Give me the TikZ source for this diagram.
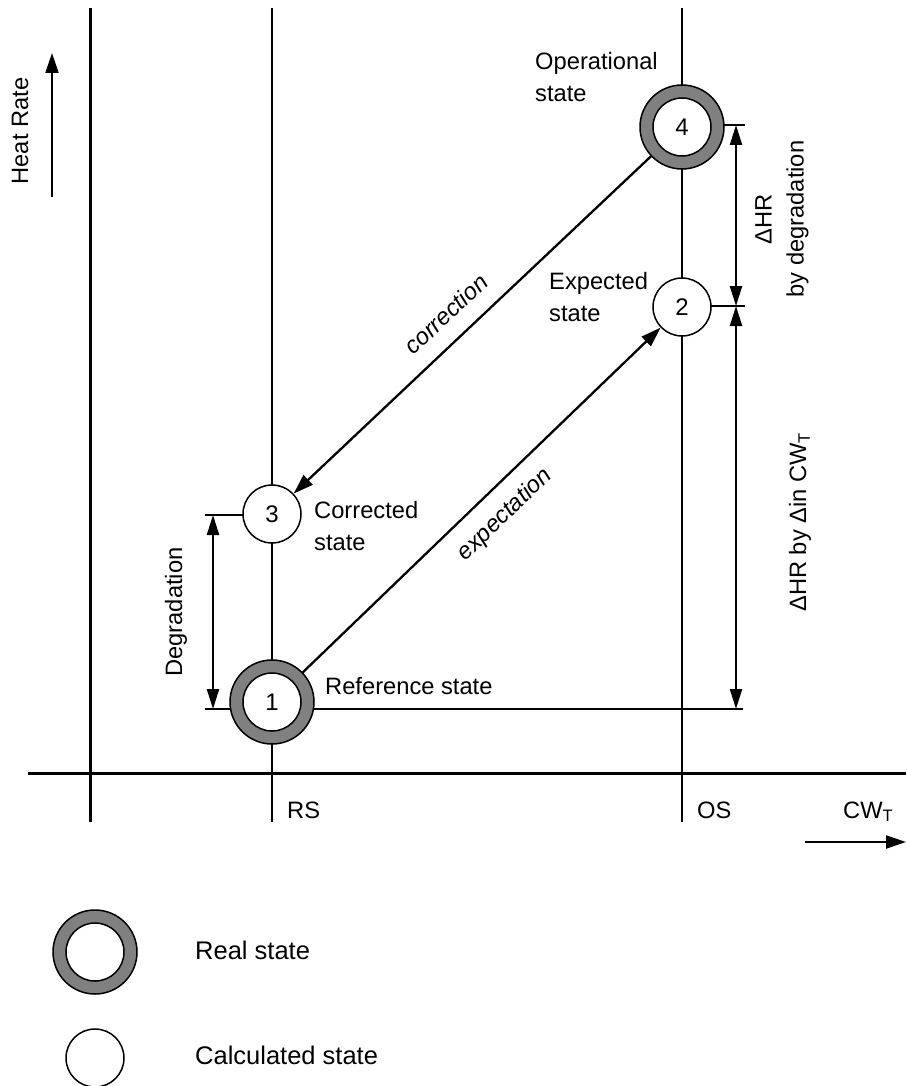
\documentclass[tikz,border=0pt]{standalone}
\usepackage{fontspec}
\setmainfont{Liberation Sans}
\usetikzlibrary{arrows.meta}
\definecolor{ringgray}{HTML}{808080}
\begin{document}
\begin{tikzpicture}[x=1pt,y=-1pt,
  thinline/.style={line width=1.5pt},
  axisline/.style={line width=3pt},
  arr/.style={line width=2.3pt,-{Triangle[length=20pt,width=13pt]}},
  dimarr/.style={line width=2.2pt,{Triangle[length=20pt,width=12pt]}-{Triangle[length=20pt,width=12pt]}},
  txt/.style={inner sep=0pt,font=\fontsize{23.7}{32}\selectfont},
  itxt/.style={inner sep=0pt,font=\fontsize{23.7}{32}\selectfont\itshape},
  legtxt/.style={inner sep=0pt,font=\fontsize{25.5}{32}\selectfont},
  realring/.style={circle,draw,line width=1.5pt,fill=ringgray,minimum size=84pt,inner sep=0pt},
  calc/.style={circle,draw,line width=1.5pt,fill=white,minimum size=58pt,inner sep=0pt,font=\fontsize{24}{28}\selectfont},
]
\useasboundingbox (0,0) rectangle (906,1086);

% axes and guide lines
\draw[axisline] (90,8) -- (90,822);
\draw[axisline] (28,773) -- (906,773);
\draw[thinline] (272,8) -- (272,822);
\draw[thinline] (682,8) -- (682,822);

% tick / reference lines
\draw[thinline] (205,709) -- (743,709);
\draw[thinline] (205,515) -- (250,515);
\draw[thinline] (700,125) -- (745,125);
\draw[thinline] (700,306) -- (745,306);

% state circles
\node[realring] (c4) at (682,127) {};
\node[calc] (c4i) at (682,127) {4};
\node[calc] (c2) at (682,307) {2};
\node[calc] (c3) at (272,514) {3};
\node[realring] (c1) at (272,702) {};
\node[calc] (c1i) at (272,702) {1};

% dimension coordinates
\coordinate (t4) at (736,125);
\coordinate (t2) at (736,306);
\coordinate (t1) at (736,709);
\coordinate (d3) at (213,515);
\coordinate (d1) at (213,709);

\draw[dimarr] (t4) -- (t2);
\draw[dimarr] (t2) -- (t1);
\draw[dimarr] (d3) -- (d1);

% diagonal arrows
\draw[arr] (c1) -- (c2);
\draw[arr] (c4) -- (c3);

% axis arrows
\coordinate (hra) at (52,197);
\coordinate (hrb) at (52,53);
\draw[arr] (hra) -- (hrb);
\coordinate (cwa) at (805,842);
\coordinate (cwb) at (906,842);
\draw[arr] (cwa) -- (cwb);

% labels
\node[txt,rotate=90] (lhr) at (20,131) {Heat Rate};
\node[txt,anchor=north west,align=left] (lop) at (535,52) {Operational\\state};
\node[txt,anchor=north west,align=left] (lex) at (549,272) {Expected\\state};
\node[txt,anchor=north west,align=left] (lco) at (314,501) {Corrected\\state};
\node[txt,anchor=base west] (lre) at (325,694) {Reference state};
\node[txt,rotate=90] (lde) at (176,612) {Degradation};
\node[txt,rotate=90,align=center] (ldhr) at (782,219) {ΔHR\\by degradation};
\node[txt,rotate=90] (ldcw) at (800,522) {ΔHR by Δin CW\textsubscript{T}};
\node[itxt,rotate=43.3] (lcorr) at (446,314) {correction};
\node[itxt,rotate=43.8] (lexp) at (505,515) {expectation};
\node[txt,anchor=base west] (lrs) at (287,818) {RS};
\node[txt,anchor=base west] (los) at (697,818) {OS};
\node[txt,anchor=base west] (lcw) at (843,818) {CW\textsubscript{T}};

% legend
\node[realring] (lr) at (95,952) {};
\node[calc] (lri) at (95,952) {};
\node[calc] (lc) at (95,1058) {};
\node[legtxt,anchor=base west] (lrt) at (195,959) {Real state};
\node[legtxt,anchor=base west] (lct) at (195,1064) {Calculated state};
\end{tikzpicture}
\end{document}
